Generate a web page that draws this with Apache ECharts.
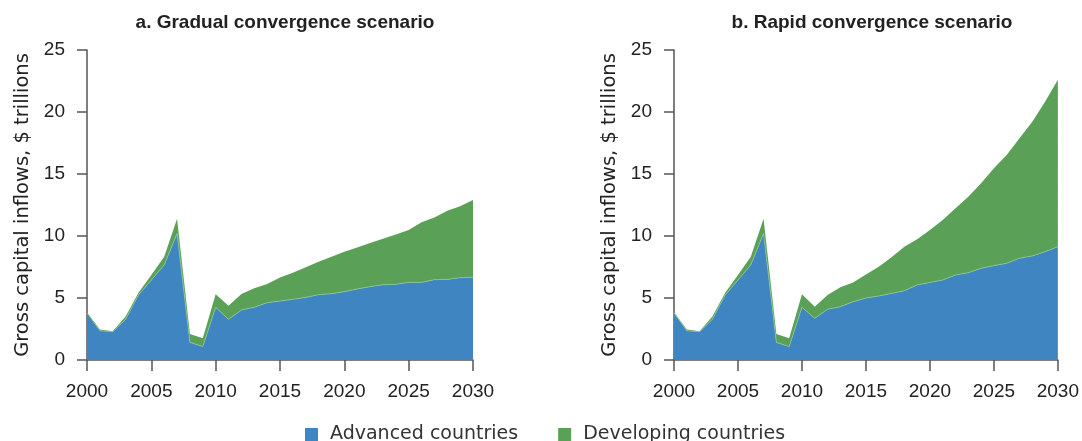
<!DOCTYPE html>
<html>
<head>
<meta charset="utf-8">
<script src="https://cdn.jsdelivr.net/npm/echarts@6/dist/echarts.min.js"></script>
<style>
html,body{margin:0;padding:0;background:#fff;}
#chart{width:1082px;height:441px;}
</style>
</head>
<body>
<div id="chart"></div>
<script>
const years = ['2000','2001','2002','2003','2004','2005','2006','2007','2008','2009','2010','2011','2012','2013','2014','2015','2016','2017','2018','2019','2020','2021','2022','2023','2024','2025','2026','2027','2028','2029','2030'];
const gradualAdvanced = [3.8,2.36,2.28,3.28,5.24,6.45,7.66,10.2,1.42,1.08,4.25,3.28,4.03,4.25,4.62,4.75,4.89,5.05,5.27,5.35,5.51,5.73,5.91,6.07,6.1,6.26,6.26,6.48,6.5,6.64,6.67];
const gradualDeveloping = [0.05,0.09,0.04,0.22,0.19,0.4,0.67,1.2,0.68,0.67,1.05,1.1,1.29,1.53,1.51,1.91,2.15,2.42,2.66,2.98,3.22,3.35,3.52,3.71,4.03,4.22,4.84,5.02,5.54,5.76,6.23];
const rapidAdvanced = [3.8,2.36,2.28,3.28,5.24,6.45,7.66,10.2,1.42,1.08,4.25,3.36,4.09,4.3,4.7,5.0,5.16,5.37,5.59,6.05,6.26,6.45,6.85,7.04,7.39,7.61,7.8,8.2,8.39,8.73,9.14];
const rapidDeveloping = [0.05,0.09,0.04,0.22,0.19,0.4,0.67,1.2,0.68,0.67,1.05,0.94,1.15,1.56,1.56,1.9,2.37,2.91,3.55,3.68,4.22,4.84,5.38,6.13,6.86,7.85,8.73,9.68,10.83,12.1,13.46];
const titles = ['a. Gradual convergence scenario','b. Rapid convergence scenario'];
const seriesNames = ['Advanced countries','Developing countries'];
const yTitle = 'Gross capital inflows, $ trillions';

const BLUE = '#3e85c1', GREEN = '#5aa157';
const FONT = '"Liberation Sans", Arial, Helvetica, sans-serif';
const WIDE = '"DejaVu Sans", "Liberation Sans", sans-serif';

const grids = [
  {left:87, right:609, top:50, bottom:81},
  {left:674, right:22, top:50, bottom:81}
];
function xAx(i){return {type:'category', gridIndex:i, data:years, boundaryGap:false,
  axisLine:{lineStyle:{color:'#555',width:1.5}},
  axisTick:{length:11, interval:4, lineStyle:{color:'#555',width:1.5}},
  splitLine:{show:false}, axisLabel:{interval:4, color:'#222',fontSize:19,fontFamily:FONT,margin:22}};}
function yAx(i){return {type:'value', gridIndex:i, min:0, max:25, interval:5,
  name:yTitle, nameLocation:'middle', nameGap:54, nameRotate:90,
  nameTextStyle:{color:'#222',fontSize:19.5,fontFamily:WIDE},
  axisLine:{show:true,lineStyle:{color:'#555',width:1.5}}, axisTick:{show:true,length:10,lineStyle:{color:'#555',width:1.5}},
  splitLine:{show:false}, axisLabel:{color:'#222',fontSize:19,fontFamily:FONT,margin:22}};}
function ser(name, data, i, color, stack, line){
  return {name, type:'line', xAxisIndex:i, yAxisIndex:i, stack, data, symbol:'none',
    itemStyle:{color}, areaStyle:{color, opacity:1},
    lineStyle: line ? {color:'#8fc88b', width:0.8} : {width:0}, z: line?3:2};
}
const chart = echarts.init(document.getElementById('chart'));
chart.setOption({
  animation:false,
  textStyle:{fontFamily:FONT},
  title:[
    {text:titles[0], left:280, top:8, textAlign:'center', textStyle:{fontSize:19,fontWeight:'bold',color:'#222',fontFamily:FONT}},
    {text:titles[1], left:867, top:8, textAlign:'center', textStyle:{fontSize:19,fontWeight:'bold',color:'#222',fontFamily:FONT}}
  ],
  legend:{data:seriesNames, left:300, bottom:-8, itemWidth:13, itemHeight:13, itemGap:40, icon:'rect',
    textStyle:{fontSize:19,color:'#333',fontFamily:WIDE, padding:[0,0,0,7]}},
  grid:grids,
  xAxis:[xAx(0),xAx(1)],
  yAxis:[yAx(0),yAx(1)],
  series:[
    ser(seriesNames[0], gradualAdvanced, 0, BLUE, 'a', true),
    ser(seriesNames[1], gradualDeveloping, 0, GREEN, 'a', false),
    ser(seriesNames[0], rapidAdvanced, 1, BLUE, 'b', true),
    ser(seriesNames[1], rapidDeveloping, 1, GREEN, 'b', false)
  ]
});
</script>
</body>
</html>
